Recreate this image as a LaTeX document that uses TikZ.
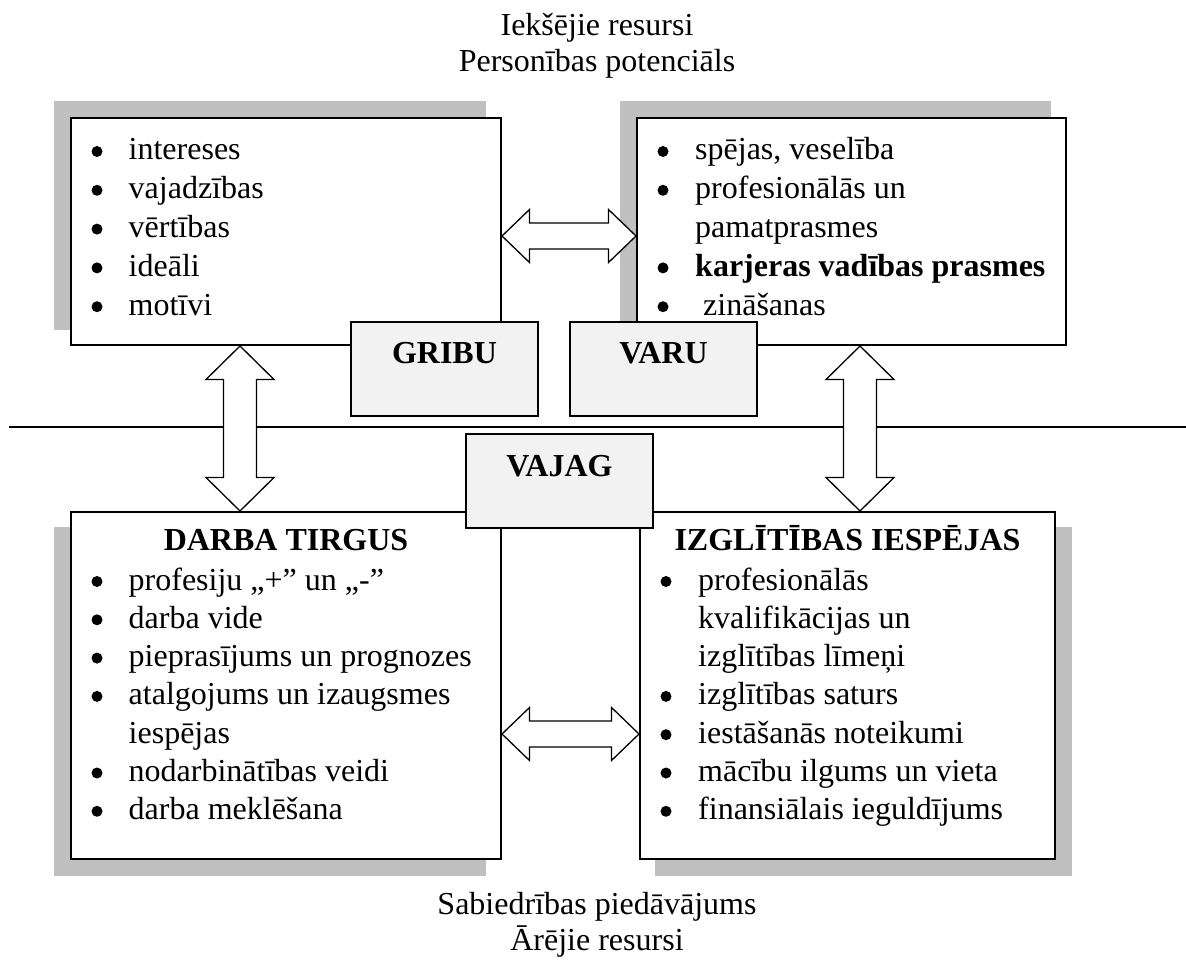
\documentclass[tikz,border=0pt]{standalone}
\usepackage{fontspec}
\setmainfont{Liberation Serif}
\usetikzlibrary{calc,backgrounds}
\definecolor{shadowgray}{HTML}{C0C0C0}
\definecolor{tagfill}{HTML}{F2F2F2}
\tikzset{
  txt/.style={font=\fontsize{32pt}{38pt}\selectfont, inner sep=0pt, anchor=base west},
  ctxt/.style={txt, anchor=base},
  btxt/.style={font=\fontsize{32pt}{38pt}\selectfont\bfseries, inner sep=0pt, anchor=base},
  bwtxt/.style={btxt, anchor=base west},
  listbox/.style={draw=black, line width=2pt, fill=white, rectangle, inner sep=0pt, anchor=north west},
  tagbox/.style={draw=black, line width=2pt, fill=tagfill, rectangle, inner sep=0pt,
    anchor=north west, minimum width=187pt, minimum height=94pt},
  boxshadow/.style={fill=shadowgray},
  bulletdot/.style={circle, fill=black, draw=none, inner sep=0pt, minimum size=11pt},
  blockarrow/.style={draw=black, fill=white, line width=1.3pt, line join=miter},
  divider/.style={draw=black, line width=2pt}
}
% horizontal double block arrow: left tip, right tip, head length, half head width, half shaft width
\newcommand{\hblockarrow}[5]{%
  \draw[blockarrow] let \p1=(#1), \p2=(#2) in
    (\x1,\y1) -- (\x1+#3,\y1+#4) -- (\x1+#3,\y1+#5) -- (\x2-#3,\y1+#5)
    -- (\x2-#3,\y1+#4) -- (\x2,\y1) -- (\x2-#3,\y1-#4) -- (\x2-#3,\y1-#5)
    -- (\x1+#3,\y1-#5) -- (\x1+#3,\y1-#4) -- cycle;}
% vertical double block arrow: top tip, bottom tip, head length, half head width, half shaft width
\newcommand{\vblockarrow}[5]{%
  \draw[blockarrow] let \p1=(#1), \p2=(#2) in
    (\x1,\y1) -- (\x1+#4,\y1-#3) -- (\x1+#5,\y1-#3) -- (\x1+#5,\y2+#3)
    -- (\x1+#4,\y2+#3) -- (\x1,\y2) -- (\x1-#4,\y2+#3) -- (\x1-#5,\y2+#3)
    -- (\x1-#5,\y1-#3) -- (\x1-#4,\y1-#3) -- cycle;}
\begin{document}
\begin{tikzpicture}[x=1pt, y=-1pt]
\useasboundingbox (0,0) rectangle (1186,960);

% captions
\node[ctxt] (capA) at (597,36) {Iekšējie resursi};
\node[ctxt] (capB) at (597,72) {Personības potenciāls};
\node[ctxt] (capC) at (597,914) {Sabiedrības piedāvājums};
\node[ctxt] (capD) at (597,950) {Ārējie resursi};

% the four list boxes
\node[listbox, minimum width=430pt, minimum height=227pt] (want) at (70,117) {};
\node[listbox, minimum width=429pt, minimum height=227pt] (can) at (636,117) {};
\node[listbox, minimum width=430pt, minimum height=347pt] (market) at (70,511) {};
\node[listbox, minimum width=415pt, minimum height=347pt] (edu) at (639,511) {};

% drop shadows behind the list boxes
\begin{scope}[on background layer]
  \fill[boxshadow] ($(want.north west)+(-16,-16)$) rectangle ($(want.south east)+(-16,-16)$);
  \fill[boxshadow] ($(can.north west)+(-16.5,-16)$) rectangle ($(can.south east)+(-16.5,-16)$);
  \fill[boxshadow] ($(market.north west)+(-16,16)$) rectangle ($(market.south east)+(-16,16)$);
  \fill[boxshadow] ($(edu.north west)+(16,16)$) rectangle ($(edu.south east)+(16,16)$);
\end{scope}

% GRIBU / VARU tags
\node[tagbox] (gribu) at (350,321) {};
\node[tagbox] (varu) at (569,321) {};
\node[btxt] (gribuT) at ($(gribu.north)+(0,42.5)$) {GRIBU};
\node[btxt] (varuT) at ($(varu.north)+(0,42.5)$) {VARU};

% dividing line
\coordinate (ruleL) at (9,427);
\coordinate (ruleR) at (1186,427);
\draw[divider] (ruleL) -- (ruleR);

% block arrows
\coordinate (a1l) at (want.east |- 0,236);
\coordinate (a1r) at (can.west |- 0,236);
\coordinate (a2l) at (market.east |- 0,734);
\coordinate (a2r) at (edu.west |- 0,734);
\coordinate (v1t) at (240,0 |- want.south);
\coordinate (v1b) at (240,0 |- market.north);
\coordinate (v2t) at (860,0 |- can.south);
\coordinate (v2b) at (860,0 |- edu.north);
\hblockarrow{a1l}{a1r}{27.5pt}{26.5pt}{13pt}
\hblockarrow{a2l}{a2r}{27.5pt}{26.5pt}{13pt}
\vblockarrow{v1t}{v1b}{33.5pt}{34pt}{16.5pt}
\vblockarrow{v2t}{v2b}{33.5pt}{34pt}{16.5pt}

% VAJAG tag
\node[tagbox] (vajag) at (465,433) {};
\node[btxt] (vajagT) at ($(vajag.north)+(0,43.5)$) {VAJAG};

% GRIBU list
\node[bulletdot] (wb1) at (97,151.5) {};
\node[bulletdot] (wb2) at (97,190.3) {};
\node[bulletdot] (wb3) at (97,229.1) {};
\node[bulletdot] (wb4) at (97,267.9) {};
\node[bulletdot] (wb5) at (97,306.7) {};
\node[txt] (w1) at (128.5,160) {intereses};
\node[txt] (w2) at (128.5,198.8) {vajadzības};
\node[txt] (w3) at (128.5,237.6) {vērtības};
\node[txt] (w4) at (128.5,276.4) {ideāli};
\node[txt] (w5) at (128.5,315.2) {motīvi};

% VARU list
\node[bulletdot] (cb1) at (663,151.5) {};
\node[bulletdot] (cb2) at (663,190.3) {};
\node[bulletdot] (cb4) at (663,267.9) {};
\node[bulletdot] (cb5) at (663,306.7) {};
\node[txt] (c1) at (695,160) {spējas, veselība};
\node[txt] (c2) at (695,198.8) {profesionālās un};
\node[txt] (c3) at (695,237.6) {pamatprasmes};
\node[bwtxt] (c4) at (695,276.4) {karjeras vadības prasmes};
\node[txt] (c5) at (703,315.2) {zināšanas};

% DARBA TIRGUS
\node[btxt] (marketT) at ($(market.north)+(0,39.5)$) {DARBA TIRGUS};
\node[bulletdot] (mb1) at (97,581.5) {};
\node[bulletdot] (mb2) at (97,619.8) {};
\node[bulletdot] (mb3) at (97,658.1) {};
\node[bulletdot] (mb4) at (97,696.4) {};
\node[bulletdot] (mb6) at (97,773.0) {};
\node[bulletdot] (mb7) at (97,811.3) {};
\node[txt] (m1) at (128.5,590) {profesiju „+” un „-”};
\node[txt] (m2) at (128.5,628.3) {darba vide};
\node[txt] (m3) at (128.5,666.6) {pieprasījums un prognozes};
\node[txt] (m4) at (128.5,704.9) {atalgojums un izaugsmes};
\node[txt] (m5) at (128.5,743.2) {iespējas};
\node[txt] (m6) at (128.5,781.5) {nodarbinātības veidi};
\node[txt] (m7) at (128.5,819.8) {darba meklēšana};

% IZGLĪTĪBAS IESPĒJAS
\node[btxt] (eduT) at ($(edu.north)+(0,39.5)$) {IZGLĪTĪBAS IESPĒJAS};
\node[bulletdot] (eb1) at (666,581.5) {};
\node[bulletdot] (eb4) at (666,696.4) {};
\node[bulletdot] (eb5) at (666,734.7) {};
\node[bulletdot] (eb6) at (666,773.0) {};
\node[bulletdot] (eb7) at (666,811.3) {};
\node[txt] (e1) at (698,590) {profesionālās};
\node[txt] (e2) at (698,628.3) {kvalifikācijas un};
\node[txt] (e3) at (698,666.6) {izglītības līmeņi};
\node[txt] (e4) at (698,704.9) {izglītības saturs};
\node[txt] (e5) at (698,743.2) {iestāšanās noteikumi};
\node[txt] (e6) at (698,781.5) {mācību ilgums un vieta};
\node[txt] (e7) at (698,819.8) {finansiālais ieguldījums};
\end{tikzpicture}
\end{document}
